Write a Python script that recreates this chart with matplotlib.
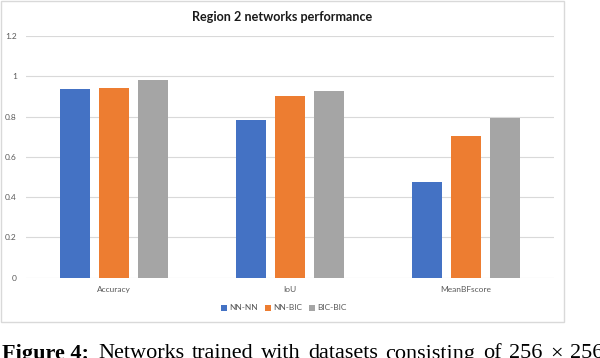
import matplotlib
matplotlib.use("Agg")
import matplotlib.pyplot as plt
from matplotlib.patches import Rectangle
import numpy as np

categories = ["Accuracy", "IoU", "MeanBFscore"]
series = ["NN-NN", "NN-BIC", "BIC-BIC"]
nn_nn = [0.935, 0.781, 0.473]
nn_bic = [0.943, 0.903, 0.703]
bic_bic = [0.980, 0.928, 0.794]
yticks = [0, 0.2, 0.4, 0.6, 0.8, 1.0, 1.2]
ytick_labels = ["0", "0.2", "0.4", "0.6", "0.8", "1", "1.2"]
colors = ["#4472C4", "#ED7D31", "#A5A5A5"]

caption_head = "Figure 4:"
caption_words = ["Networks", "trained", "with", "datasets", "consisting", "of", "256", "\u00d7", "256"]

W, H = 600, 358
fig = plt.figure(figsize=(6, 3.58), dpi=100)

# chart frame
fig.patches.append(Rectangle((1 / W, 1 - 322 / H), 563 / W, 321 / H,
                             transform=fig.transFigure, fill=False,
                             edgecolor="#d9d9d9", linewidth=1))

ax = fig.add_axes([26 / W, 1 - 277.7 / H, 528 / W, (277.7 - 36) / H])
x = np.arange(len(categories))
w = 0.174
step = 0.2216
for i, vals in enumerate([nn_nn, nn_bic, bic_bic]):
    ax.bar(x + (i - 1) * step, vals, w, color=colors[i], label=series[i],
           zorder=3, linewidth=0)

ax.set_xlim(-0.5, 2.5)
ax.set_ylim(0, 1.2)
ax.set_yticks(yticks)
ax.set_yticklabels(ytick_labels)
ax.set_xticks(x)
ax.set_xticklabels(categories)
ax.grid(axis="y", color="#d9d9d9", linewidth=0.8, zorder=0)
for s in ax.spines.values():
    s.set_visible(False)
ax.tick_params(length=0, labelsize=6, labelcolor="#595959", pad=6)
ax.tick_params(axis="y", pad=6.5)
for lab in ax.get_xticklabels() + ax.get_yticklabels():
    lab.set_family("Lato")

fig.text(282 / W, 1 - 17 / H, "Region 2 networks performance", ha="center",
         va="center", fontsize=9.1, fontweight="bold", family="Lato",
         color="#1a1a1a")

handles, labels = ax.get_legend_handles_labels()
leg = fig.legend(handles, labels, loc="center", bbox_to_anchor=(284 / W, 1 - 308 / H),
                 ncol=3, frameon=False, prop={"family": "Lato", "size": 6},
                 handlelength=0.7, handleheight=0.7, handletextpad=0.3,
                 columnspacing=0.8)
for t in leg.get_texts():
    t.set_color("#595959")

# caption: justified line, words laid out one by one
base = 1 - 358.5 / H
fs = 16
fig.text(2 / W, base, caption_head, fontsize=fs, fontweight="bold",
         family="Liberation Serif", va="baseline")
fig.canvas.draw()
r = fig.canvas.get_renderer()
word_txt = [fig.text(0, base, wd, fontsize=fs, family="Liberation Serif",
                     va="baseline") for wd in caption_words]
widths = [t.get_window_extent(r).width for t in word_txt]
gap = (308 - 98 - sum(widths[:3])) / 3
px = 98
for t, wd in zip(word_txt, widths):
    t.set_x(px / W)
    px += wd + gap

fig.savefig("out.png", dpi=100)
